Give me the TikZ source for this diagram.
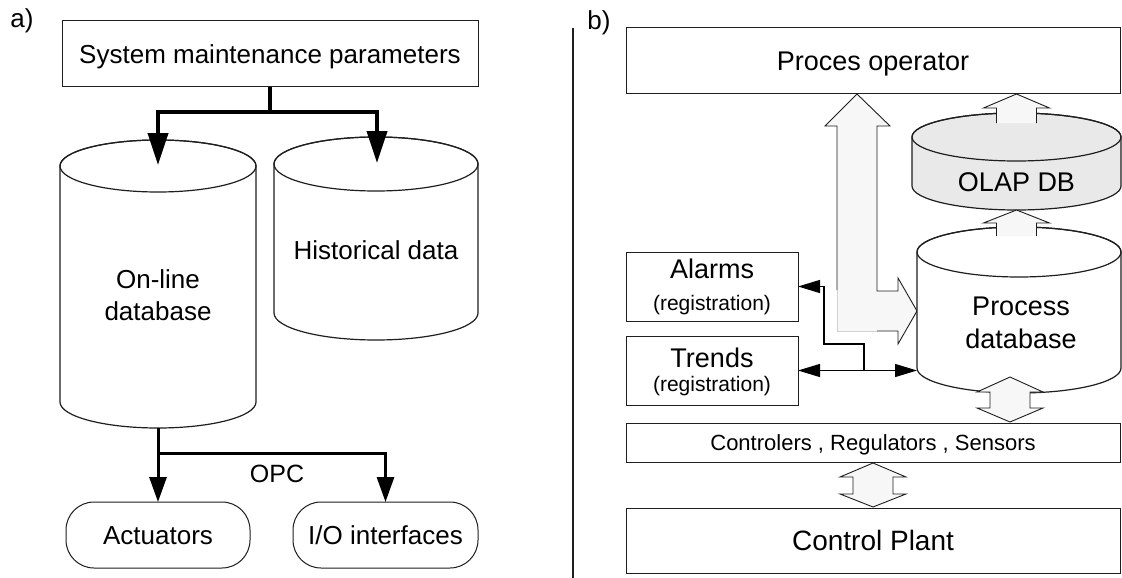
\documentclass[tikz,border=0pt]{standalone}
\usepackage{fontspec}
\setmainfont{Liberation Sans}
\usetikzlibrary{arrows.meta}
\definecolor{blockfill}{RGB}{246,247,246}
\definecolor{olapfill}{RGB}{233,233,233}
\definecolor{lineclr}{RGB}{30,30,30}
\newcommand\setfs[1]{\fontsize{#1}{#1}\selectfont}
\newcommand\setfsl[2]{\fontsize{#1}{#2}\selectfont}
% cylinder: cx, rx, top-center y, bottom-center y, ry, fill
\newcommand\dbcyl[6]{%
  \path[cylline,fill=#6] (#1-#2,#3) -- (#1-#2,#4)
    arc[start angle=180,end angle=360,x radius=#2pt,y radius=#5pt] -- (#1+#2,#3)
    arc[start angle=0,end angle=180,x radius=#2pt,y radius=#5pt] -- cycle;
  \draw[cylline] (#1,#3) ellipse[x radius=#2pt,y radius=#5pt];}
% upward block arrow: cx, tip y, head base y, shaft bottom y
\newcommand\upblock[4]{%
  \fill[blockfill] (#1-20,#4) -- (#1-20,#3) -- (#1-33,#3) -- (#1,#2) -- (#1+33,#3) -- (#1+20,#3) -- (#1+20,#4) -- cycle;
  \draw[blockline] (#1-20,#4) -- (#1-20,#3) -- (#1-33,#3) -- (#1,#2) -- (#1+33,#3) -- (#1+20,#3) -- (#1+20,#4);}
% double vertical block arrow: cx, top tip, top base, bottom base, bottom tip
\newcommand\dblblock[5]{%
  \filldraw[blockline,fill=blockfill] (#1-20,#3) -- (#1-33,#3) -- (#1,#2) -- (#1+33,#3) -- (#1+20,#3)
    -- (#1+20,#4) -- (#1+33,#4) -- (#1,#5) -- (#1-33,#4) -- (#1-20,#4) -- cycle;}
\begin{document}
\begin{tikzpicture}[x=1pt,y=-1pt,
  every node/.style={inner sep=0pt, outer sep=0pt, text=black},
  capc/.style={text height=#1, text depth=0pt},
  box/.style={draw=lineclr, line width=1pt, fill=white},
  cylline/.style={draw=lineclr, line width=1.2pt},
  blockline/.style={draw=lineclr, line width=0.9pt, line join=miter},
  bigarrow/.style={draw=black, line width=4pt, -{Triangle[length=32pt,width=20pt]}},
  opcarrow/.style={draw=black, line width=3pt, -{Triangle[length=25pt,width=17pt]}},
  thinarrow/.style={draw=black, line width=1.3pt, -{Triangle[length=22pt,width=13pt]}},
  bithin/.style={draw=black, line width=1.3pt, {Triangle[length=22pt,width=13pt]}-{Triangle[length=22pt,width=13pt]}},
]
\useasboundingbox (0,0) rectangle (1122,578);
\fill[white] (0,0) rectangle (1122,578);

% ---------------- a) ----------------
\node[font=\setfs{26}] (la) at (22,21) {a)};
\node[box, capc=18.6pt, minimum width=416pt, minimum height=66pt, font=\setfs{26}] (smp) at (270,54) {System maintenance parameters};

\dbcyl{158}{98}{166}{402}{26}{white}
\dbcyl{376}{102}{164}{313}{27}{white}
\node[align=center, font=\setfsl{26}{32}] (online) at (158,295) {On-line\\database};
\node[capc=18.6pt, font=\setfs{26}] (hist) at (376,250) {Historical data};

\coordinate (split) at (270,112);
\coordinate (onlineTop) at (158,165);
\coordinate (histTop) at (377,163);
\draw[line width=4pt] (smp.south) -- (split);
\draw[bigarrow] (split) -| (onlineTop);
\draw[bigarrow] (split) -| (histTop);

\node[box, capc=18.6pt, rounded corners=28pt, minimum width=184pt, minimum height=66pt, font=\setfs{26}] (act) at (158,535) {Actuators};
\node[box, capc=18.6pt, rounded corners=28pt, minimum width=185pt, minimum height=66pt, font=\setfs{26}] (io) at (385.5,535) {I/O interfaces};
\coordinate (onlineBot) at (158,428);
\coordinate (opcsplit) at (158,453);
\draw[opcarrow] (onlineBot) -- (act.north);
\draw[opcarrow] (opcsplit) -| (io.north);
\node[capc=17.9pt, font=\setfs{25}] (opc) at (277,474) {OPC};

% divider
\coordinate (divtop) at (573,28);
\coordinate (divbot) at (573,578);
\draw[lineclr, line width=1.3pt] (divtop) -- (divbot);

% ---------------- b) ----------------
\node[font=\setfs{26}] (lb) at (599,23) {b)};
\node[box, capc=19.3pt, minimum width=494pt, minimum height=65pt, font=\setfs{27}] (op) at (873,60.5) {Proces operator};

% big L-shaped block arrow
\fill[blockfill] (837,331) -- (837,126) -- (825,126) -- (857,94) -- (890,126) -- (877,126) -- (877,291)
  -- (898,291) -- (898,278) -- (917,311) -- (898,344) -- (898,331) -- cycle;
\draw[blockline] (837,290) -- (837,126) -- (825,126) -- (857,94) -- (890,126) -- (877,126) -- (877,291)
  -- (898,291) -- (898,278) -- (917,311) -- (898,344) -- (898,331) -- (877,331);
\draw[black!18, line width=0.8pt] (877,331) -- (837,331) -- (837,290);

% OLAP DB
\dbcyl{1016.5}{104.5}{137}{186}{24}{olapfill}
\node[capc=19.3pt, font=\setfs{27}] (olap) at (1016.5,182) {OLAP DB};
\upblock{1016.5}{94}{108}{123}

% Process database
\dbcyl{1019}{102}{252}{368}{25}{white}
\node[align=center, font=\setfsl{27}{33}] (pdb) at (1021,323) {Process\\database};
\upblock{1016.5}{210}{223}{236}

% Alarms / Trends
\node[draw=lineclr, line width=1pt, fill=white, minimum width=172pt, minimum height=69pt] (alarms) at (712,286.5) {};
\node[capc=19.3pt, font=\setfs{27}] (alarmsT) at (712,269) {Alarms};
\node[font=\setfs{21}] (alarmsR) at (712,305) {(registration)};
\node[draw=lineclr, line width=1pt, fill=white, minimum width=172pt, minimum height=69pt] (trends) at (712,370.5) {};
\node[capc=19.3pt, font=\setfs{27}] (trendsT) at (712,357.5) {Trends};
\node[font=\setfs{21}] (trendsR) at (712,386.5) {(registration)};

\coordinate (pdbW) at (917,370.5);
\coordinate (tj) at (864,370.5);
\draw[bithin] (trends.east) -- (pdbW);
\draw[thinarrow] (tj) -- ++(0,-26.5) -| ([xshift=26pt]alarms.east) -- (alarms.east);

% Controllers and plant
\node[box, capc=15.8pt, minimum width=494pt, minimum height=39pt, font=\setfs{22}] (ctrl) at (873,442.5) {Controlers , Regulators , Sensors};
\node[box, capc=20pt, minimum width=494pt, minimum height=65pt, font=\setfs{28}] (plant) at (873,540.5) {Control Plant};
\dblblock{1010}{377}{392}{408}{422}
\dblblock{873}{463}{477}{494}{507}
\end{tikzpicture}
\end{document}
